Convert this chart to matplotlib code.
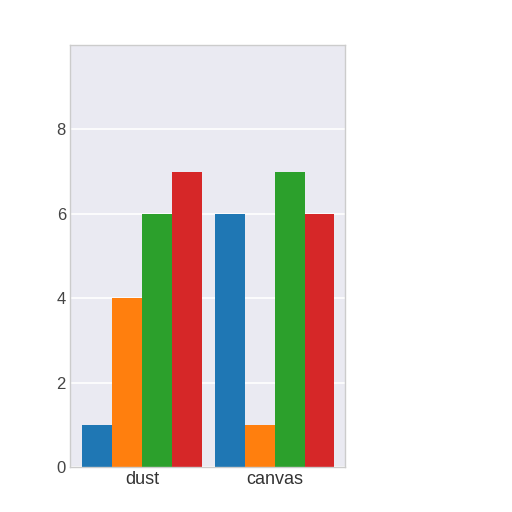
import matplotlib
matplotlib.use("Agg")
import matplotlib.pyplot as plt
import numpy as np
import seaborn as sns

categories = ["dust", "canvas"]
series_names = ["s1", "s2", "s3", "s4"]
values = {
    "s1": [1, 6],
    "s2": [4, 1],
    "s3": [6, 7],
    "s4": [7, 6],
}
colors = ["#1f77b4", "#ff7f0e", "#2ca02c", "#d62728"]
yticks = [0, 2, 4, 6, 8]

sns.set_style("darkgrid")
plt.rcParams['font.family'] = ['Liberation Sans', 'DejaVu Sans']

fig = plt.figure(figsize=(5.12, 5.12), dpi=100)
ax = fig.add_axes([0.137, 0.088, 0.537, 0.824])
ax.set_facecolor("#eaeaf2")

x = np.arange(len(categories))
n = len(series_names)
width = 0.9 / n
for i, (name, c) in enumerate(zip(series_names, colors)):
    ax.bar(x - 0.45 + width * (i + 0.5), values[name], width=width, color=c,
           linewidth=0, label=name)

ax.set_xticks(x)
ax.set_xticklabels(categories, fontsize=13, color="#333333")
ax.set_yticks(yticks)
ax.set_yticklabels([str(v) for v in yticks], fontsize=12, color="#444444")
ax.set_ylim(0, 10)
ax.set_xlim(-0.54, 1.53)
ax.grid(axis="x", visible=False)
ax.grid(axis="y", color="white", linewidth=1.2)
ax.tick_params(length=0, pad=3)
for s in ax.spines.values():
    s.set_visible(True)
    s.set_color("#cccccc")
    s.set_linewidth(1)

fig.savefig("out.png", dpi=100)
